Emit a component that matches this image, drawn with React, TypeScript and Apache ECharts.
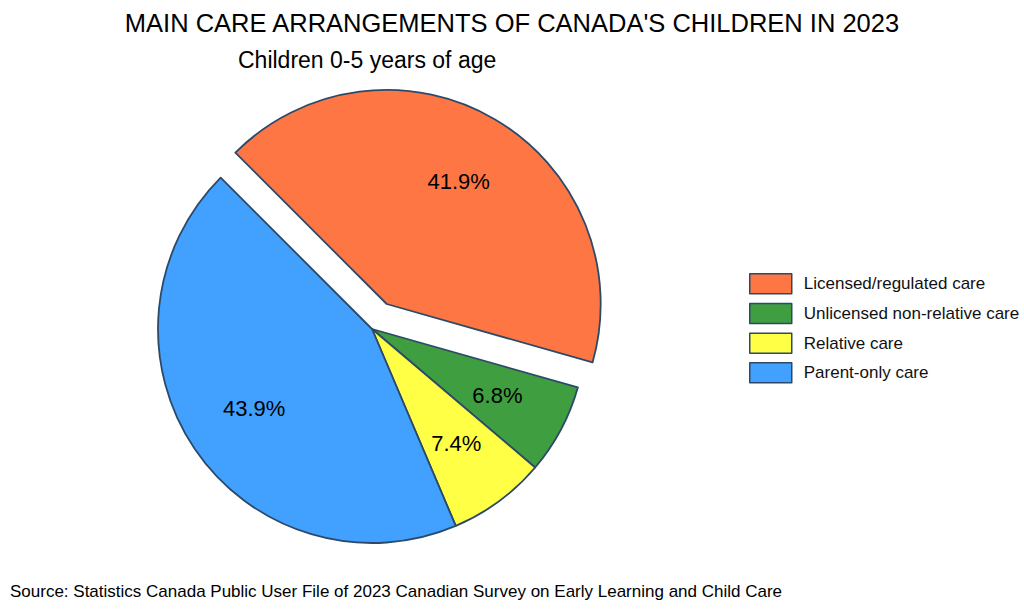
import React, { useEffect, useRef } from "react";
import * as echarts from "echarts";

const categories = [
  "Licensed/regulated care",
  "Unlicensed non-relative care",
  "Relative care",
  "Parent-only care",
];
const values = [41.9, 6.8, 7.4, 43.9];
const colors = ["#FF7645", "#3F9E3F", "#FFFF45", "#42A0FF"];
const titleText = "MAIN CARE ARRANGEMENTS OF CANADA'S CHILDREN IN 2023";
const subtitleText = "Children 0-5 years of age";
const sourceText =
  "Source: Statistics Canada Public User File of 2023 Canadian Survey on Early Learning and Child Care";

const FONT = "'Liberation Sans', Arial, Helvetica, sans-serif";
const BORDER = "#2C4A68";

export default function App() {
  const ref = useRef<HTMLDivElement>(null);
  useEffect(() => {
    if (!ref.current) return;
    const chart = echarts.init(ref.current, null, { renderer: "svg" });
    const R = 214;
    const base = categories.map((name, i) => ({
      name,
      value: values[i],
      selected: i === 0,
    }));
    chart.setOption({
      animation: false,
      backgroundColor: "#ffffff",
      textStyle: { fontFamily: FONT },
      title: [
        {
          text: titleText,
          left: "center",
          top: 5,
          textStyle: { fontSize: 25.5, fontWeight: "normal", color: "#000", fontFamily: FONT },
        },
        {
          text: subtitleText,
          left: 233,
          top: 43,
          textStyle: { fontSize: 23, fontWeight: "normal", color: "#000", fontFamily: FONT },
        },
        {
          text: sourceText,
          left: 5,
          top: 578,
          textStyle: { fontSize: 17, fontWeight: "normal", color: "#000", fontFamily: FONT },
        },
      ],
      legend: {
        orient: "vertical",
        left: 749,
        top: 273,
        padding: 0,
        icon: "rect",
        itemWidth: 42,
        itemHeight: 20,
        itemGap: 8.2,
        selectedMode: false,
        textStyle: { fontSize: 17, color: "#111", fontFamily: FONT, padding: [0, 0, 0, 7] },
        data: categories.map((name, i) => ({
          name,
          itemStyle: { color: colors[i], borderColor: BORDER, borderWidth: 1.5 },
        })),
      },
      series: [
        {
          type: "pie",
          center: [372, 329],
          radius: [0, R],
          startAngle: 135,
          clockwise: true,
          selectedMode: "single",
          selectedOffset: 29,
          silent: true,
          color: colors,
          itemStyle: { borderColor: BORDER, borderWidth: 1.8 },
          label: { show: false },
          labelLine: { show: false },
          emphasis: { disabled: true },
          data: base.map((d, i) => ({ ...d, itemStyle: { color: colors[i] } })),
        },
        {
          type: "pie",
          center: [372, 329],
          radius: [0, R * 1.3],
          startAngle: 135,
          clockwise: true,
          selectedMode: "single",
          selectedOffset: 29,
          silent: true,
          z: 5,
          itemStyle: { color: "rgba(0,0,0,0)", borderWidth: 0 },
          label: {
            show: true,
            position: "inside",
            formatter: (p: any) => p.value.toFixed(1) + "%",
            fontSize: 22,
            color: "#000",
            fontFamily: FONT,
          },
          labelLine: { show: false },
          emphasis: { disabled: true },
          data: base,
        },
      ],
    });
    return () => chart.dispose();
  }, []);
  return (
    <div
      ref={ref}
      style={{ position: "absolute", left: 0, top: 0, width: 1024, height: 614 }}
    />
  );
}
